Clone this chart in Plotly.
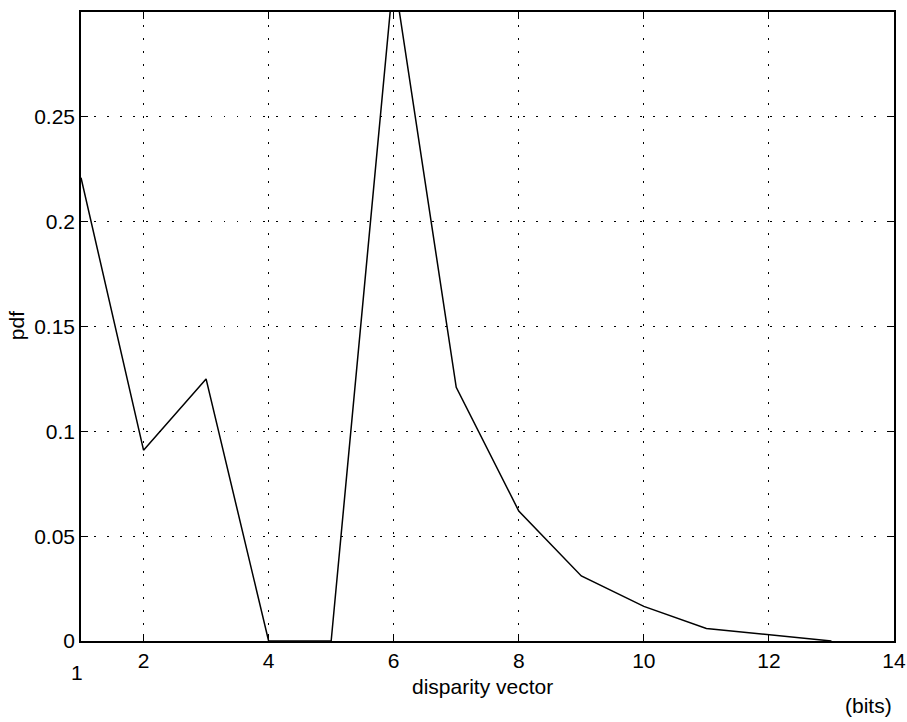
import plotly.graph_objects as go

x_vals = [1, 2, 3, 4, 5, 6, 7, 8, 9, 10, 11, 12, 13]
pdf_vals = [0.221, 0.091, 0.125, 0.0, 0.0, 0.318, 0.121, 0.062, 0.031, 0.0165, 0.006, 0.003, 0.0]

x_ticks = [2, 4, 6, 8, 10, 12, 14]
y_ticks = [0, 0.05, 0.1, 0.15, 0.2, 0.25]
y_tick_text = ["0", "0.05", "0.1", "0.15", "0.2", "0.25"]

FONT = "Liberation Sans, Arial, Helvetica, sans-serif"
FS = 21

fig = go.Figure()
fig.add_trace(go.Scatter(x=x_vals, y=pdf_vals, mode="lines",
                         line=dict(color="black", width=1.5),
                         showlegend=False, cliponaxis=True))

axis_common = dict(
    showline=True, linecolor="black", linewidth=1.5, mirror="ticks",
    ticks="inside", ticklen=7, tickcolor="black", tickwidth=1,
    showgrid=True, gridcolor="black", gridwidth=1.3, griddash="1.5px,11.5px",
    zeroline=False, ticklabeloverflow="allow", automargin=False,
    tickfont=dict(family=FONT, size=FS, color="black"),
)

fig.update_xaxes(range=[0.9999, 14.0001], tickvals=x_ticks, **axis_common)
fig.update_yaxes(range=[0, 0.3], tickvals=y_ticks, ticktext=y_tick_text, **axis_common)

afont = dict(family=FONT, size=FS, color="black")
fig.add_annotation(text="disparity vector", x=0.494, y=-0.073, xref="paper", yref="paper",
                   xanchor="center", yanchor="middle", showarrow=False, font=afont)
fig.add_annotation(text="pdf", x=-0.08, y=0.502, xref="paper", yref="paper",
                   xanchor="center", yanchor="middle", textangle=-90, showarrow=False, font=afont)
fig.add_annotation(text="1", x=1, y=0, xref="x", yref="y", yshift=-31, xshift=-4,
                   yanchor="middle", showarrow=False, font=afont)
fig.add_annotation(text="(bits)", x=13.6, y=0, xref="x", yref="y", yshift=-64,
                   yanchor="middle", showarrow=False, font=afont)

fig.update_layout(
    width=907, height=722,
    margin=dict(l=81, r=13, t=12, b=81),
    paper_bgcolor="white", plot_bgcolor="white",
)

fig.write_html("out.html")
